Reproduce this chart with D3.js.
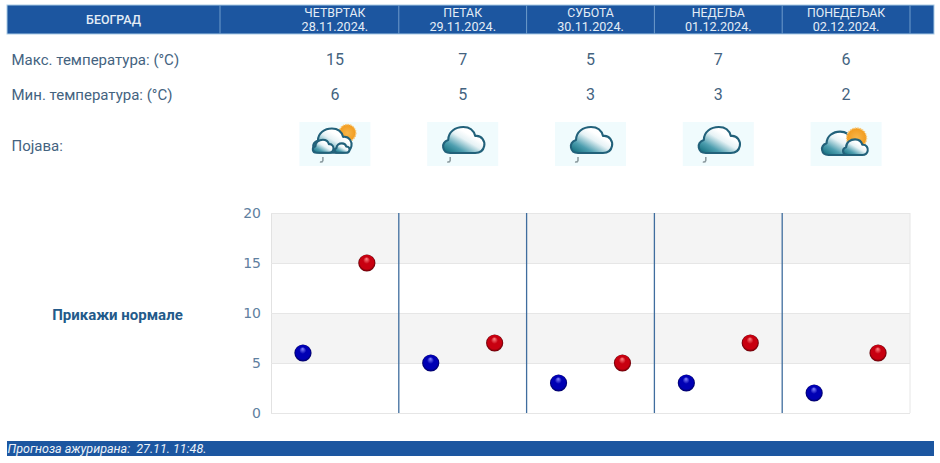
<!DOCTYPE html>
<html>
<head>
<meta charset="utf-8">
<script src="https://cdnjs.cloudflare.com/ajax/libs/d3/7.8.5/d3.min.js"></script>
<style>
html, body { margin: 0; padding: 0; background: #fff; }
svg { display: block; font-family: Roboto, sans-serif; }
</style>
</head>
<body>
<svg id="chart" width="940" height="463"></svg>
<script>
var city = 'БЕОГРАД';
var days = ['ЧЕТВРТАК', 'ПЕТАК', 'СУБОТА', 'НЕДЕЉА', 'ПОНЕДЕЉАК'];
var dates = ['28.11.2024.', '29.11.2024.', '30.11.2024.', '01.12.2024.', '02.12.2024.'];
var maxTemps = [15, 7, 5, 7, 6];
var minTemps = [6, 5, 3, 3, 2];
var icons = ['sunBehind', 'cloud', 'cloud', 'cloud', 'sunBetween'];
var yTicks = [0, 5, 10, 15, 20];

var blue = '#1c56a0';
var textColor = '#44637f';

var svg = d3.select('#chart');
var defs = svg.append('defs');

var plot = {left: 271, right: 910, top: 213, bottom: 413};

var x = d3.scaleBand().domain(dates).range([plot.left, plot.right]);
var inner = d3.scalePoint().domain(['min', 'max']).range([0, x.bandwidth()]).padding(0.5);
var y = d3.scaleLinear().domain([0, 20]).range([plot.bottom, plot.top]);

// gradients for markers and clouds
function sphereGradient(id, light, main, dark) {
    var g = defs.append('radialGradient').attr('id', id)
        .attr('cx', '50%').attr('cy', '50%').attr('r', '50%')
        .attr('fx', '48%').attr('fy', '25%');
    g.append('stop').attr('offset', '0%').attr('stop-color', light);
    g.append('stop').attr('offset', '40%').attr('stop-color', main);
    g.append('stop').attr('offset', '80%').attr('stop-color', main);
    g.append('stop').attr('offset', '100%').attr('stop-color', dark);
}
sphereGradient('redBall', '#ff8a8a', '#c80010', '#5e0006');
sphereGradient('blueBall', '#8a8aff', '#0000b4', '#00005e');

var cg = defs.append('linearGradient').attr('id', 'cloudFill')
    .attr('x1', '5%').attr('y1', '95%').attr('x2', '65%').attr('y2', '30%');
cg.append('stop').attr('offset', '0%').attr('stop-color', '#14707f');
cg.append('stop').attr('offset', '35%').attr('stop-color', '#4f9fb0');
cg.append('stop').attr('offset', '75%').attr('stop-color', '#e6f2f5');
cg.append('stop').attr('offset', '100%').attr('stop-color', '#ffffff');

var sg = defs.append('radialGradient').attr('id', 'sunFill');
sg.append('stop').attr('offset', '0%').attr('stop-color', '#f7b64a');
sg.append('stop').attr('offset', '100%').attr('stop-color', '#f29b1e');

// header
var headerTop = 5, headerHeight = 29;
svg.append('rect').attr('x', 7).attr('y', headerTop).attr('width', 927).attr('height', headerHeight)
    .attr('fill', blue).attr('stroke', '#a9cbe6').attr('stroke-width', 1);

var seps = [220].concat(dates.map(function(d) { return x(d) + x.bandwidth(); }));
svg.selectAll('.sep').data(seps).enter().append('line')
    .attr('x1', function(d) { return d; }).attr('x2', function(d) { return d; })
    .attr('y1', headerTop).attr('y2', headerTop + headerHeight)
    .attr('stroke', '#6f9ccb').attr('stroke-width', 1);

svg.append('text').attr('x', 113.5).attr('y', 23.5).attr('text-anchor', 'middle')
    .attr('fill', '#e4edf6').attr('font-size', 12.4).attr('font-weight', 500).text(city);

function colX(d) { return x(d) + x.bandwidth() / 2; }

svg.selectAll('.day').data(days).enter().append('text')
    .attr('x', function(d, i) { return colX(dates[i]); }).attr('y', 16.5)
    .attr('text-anchor', 'middle').attr('fill', '#e4edf6').attr('font-size', 12.3)
    .text(function(d) { return d; });
svg.selectAll('.date').data(dates).enter().append('text')
    .attr('x', colX).attr('y', 31)
    .attr('text-anchor', 'middle').attr('fill', '#e4edf6').attr('font-size', 12.6)
    .text(function(d) { return d; });

// rows
function rowLabel(txt, yy) {
    svg.append('text').attr('x', 11.5).attr('y', yy).attr('fill', textColor)
        .attr('font-size', 15).text(txt);
}
rowLabel('Макс. температура: (°C)', 65);
rowLabel('Мин. температура: (°C)', 100);
rowLabel('Појава:', 151);

function rowValues(vals, yy) {
    svg.selectAll(null).data(vals).enter().append('text')
        .attr('x', function(d, i) { return colX(dates[i]); }).attr('y', yy)
        .attr('text-anchor', 'middle').attr('fill', textColor).attr('font-size', 16)
        .text(function(d) { return d; });
}
rowValues(maxTemps, 65);
rowValues(minTemps, 100);

// weather icons
var cloudOutline = '#22617a';
function drawCloud(g, dx, dy, s) {
    g.append('path')
        .attr('transform', 'translate(' + dx + ',' + dy + ') scale(' + s + ')')
        .attr('d', 'M-13 12 C-21 12 -23 2 -15 -1 C-15 -9 -8 -14 0 -14 C8 -14 11 -9 12 -5 C19 -6 22 1 21 5 C20 10 16 12 12 12 Z')
        .attr('fill', 'url(#cloudFill)').attr('stroke', cloudOutline)
        .attr('stroke-width', 2.1 / s).attr('stroke-linejoin', 'round');
}
function drawSun(g, dx, dy, r) {
    g.append('circle').attr('cx', dx).attr('cy', dy).attr('r', r)
        .attr('fill', 'url(#sunFill)').attr('stroke', '#f8c877')
        .attr('stroke-width', 1.4).attr('stroke-dasharray', '1.5 1');
}
function drawDrop(g, dx, dy) {
    g.append('path')
        .attr('transform', 'translate(' + dx + ',' + dy + ')')
        .attr('d', 'M0 0 L0 3.5 Q-0.5 5.5 -3 5')
        .attr('fill', 'none').attr('stroke', '#8b9a9f').attr('stroke-width', 1.5);
}

var iconG = svg.selectAll('.icon').data(icons).enter().append('g')
    .attr('transform', function(d, i) { return 'translate(' + colX(dates[i]) + ',144)'; });
iconG.append('rect').attr('x', -35.5).attr('y', -22).attr('width', 71).attr('height', 44).attr('fill', '#f0fbfd');
iconG.each(function(kind) {
    var g = d3.select(this);
    if (kind == 'sunBehind') {
        drawSun(g, 12.5, -11, 8.5);
        drawCloud(g, -3, -2.5, 0.93);
        drawCloud(g, -12, 2.7, 0.5);
        drawCloud(g, 7, 4.4, 0.36);
        drawDrop(g, -12, 13);
    } else if (kind == 'cloud') {
        drawCloud(g, 0.5, -3, 1);
        drawDrop(g, -12.5, 13);
    } else {
        drawCloud(g, -6, 0.2, 0.9);
        drawSun(g, 10.5, -6, 10);
        drawCloud(g, 9, 3.8, 0.6);
    }
});

svg.append('text').attr('x', 117.5).attr('y', 320).attr('text-anchor', 'middle')
    .attr('fill', '#235a8a').attr('font-size', 15).attr('font-weight', 700).text('Прикажи нормале');

// plot background bands
var bands = d3.pairs(yTicks);
svg.selectAll('.band').data(bands).enter().append('rect')
    .attr('x', plot.left).attr('width', plot.right - plot.left)
    .attr('y', function(d) { return y(d[1]); })
    .attr('height', function(d) { return y(d[0]) - y(d[1]); })
    .attr('fill', function(d, i) { return i % 2 ? '#f4f4f4' : '#ffffff'; });

// y axis
var yAxis = d3.axisLeft(y).tickValues(yTicks).tickSize(-(plot.right - plot.left)).tickPadding(10);
var axisG = svg.append('g').attr('transform', 'translate(' + plot.left + ',0)').call(yAxis);
axisG.select('.domain').attr('stroke', '#e2e2e2');
axisG.selectAll('.tick line').attr('stroke', '#e6e6e6');
axisG.selectAll('.tick text').attr('fill', '#5f80a0')
    .attr('font-family', 'DejaVu Sans').attr('font-size', 14);

svg.append('line').attr('x1', plot.right).attr('x2', plot.right)
    .attr('y1', plot.top).attr('y2', plot.bottom).attr('stroke', '#e6e6e6');

// day separators
svg.selectAll('.daySep').data(dates.slice(0, -1)).enter().append('line')
    .attr('x1', function(d) { return x(d) + x.bandwidth(); })
    .attr('x2', function(d) { return x(d) + x.bandwidth(); })
    .attr('y1', plot.top).attr('y2', plot.bottom)
    .attr('stroke', '#3f6d9e').attr('stroke-width', 1.3);

// temperature points
svg.selectAll('.minPt').data(minTemps).enter().append('circle')
    .attr('cx', function(d, i) { return x(dates[i]) + inner('min'); })
    .attr('cy', function(d) { return y(d); })
    .attr('r', 8.6).attr('fill', 'url(#blueBall)');
svg.selectAll('.maxPt').data(maxTemps).enter().append('circle')
    .attr('cx', function(d, i) { return x(dates[i]) + inner('max'); })
    .attr('cy', function(d) { return y(d); })
    .attr('r', 8.6).attr('fill', 'url(#redBall)');

// footer
svg.append('rect').attr('x', 7).attr('y', 441).attr('width', 927).attr('height', 15).attr('fill', blue);
svg.append('text').attr('x', 7.5).attr('y', 453).attr('fill', '#eef3f9')
    .attr('font-size', 12.5).attr('font-style', 'italic')
    .style('white-space', 'pre')
    .text('Прогноза ажурирана:  27.11. 11:48.');
</script>
</body>
</html>
